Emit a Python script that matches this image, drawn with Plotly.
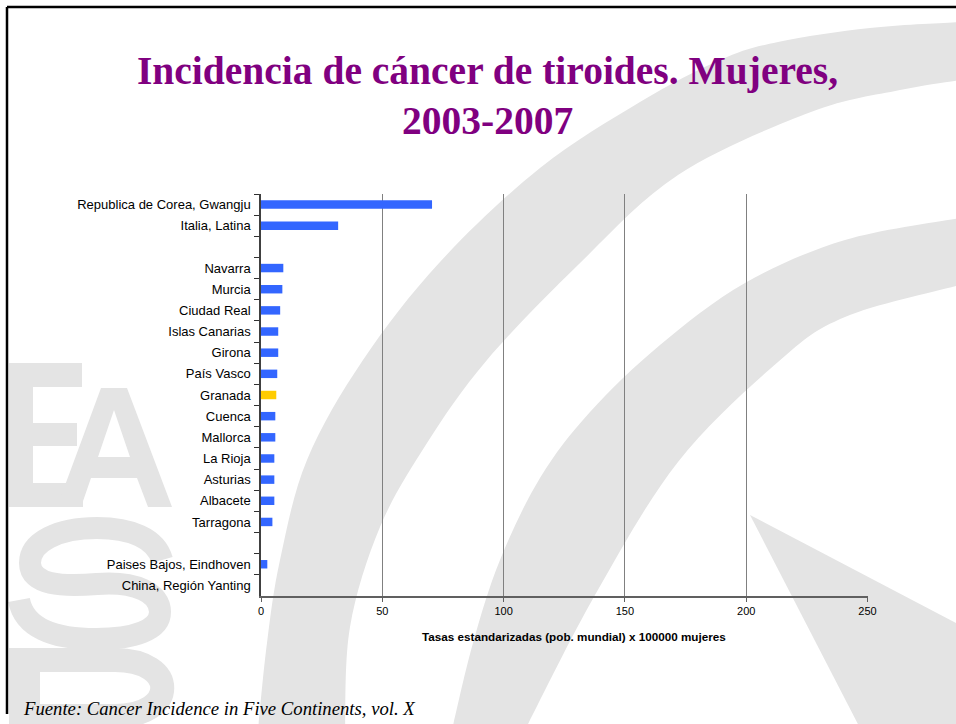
import plotly.graph_objects as go

# ---------------- data ----------------
categories = [
    "Republica de Corea, Gwangju", "Italia, Latina", " ",
    "Navarra", "Murcia", "Ciudad Real", "Islas Canarias", "Girona",
    "País Vasco", "Granada", "Cuenca", "Mallorca", "La Rioja",
    "Asturias", "Albacete", "Tarragona", "  ",
    "Paises Bajos, Eindhoven", "China, Región Yanting",
]
values = [70.5, 31.8, None, 9.2, 8.8, 7.9, 7.1, 7.1, 6.7, 6.3, 5.9, 5.9,
          5.5, 5.5, 5.5, 4.7, None, 2.6, 0.0]
highlight = "Granada"
x_ticks = [0, 50, 100, 150, 200, 250]
title_line1 = "Incidencia de cáncer de tiroides. Mujeres,"
title_line2 = "2003-2007"
x_title = "Tasas estandarizadas (pob. mundial) x 100000 mujeres"
source = "Fuente: Cancer Incidence in Five Continents, vol. X"

# ---------------- geometry helpers ----------------
W, H = 956, 724
ML, MR, MT, MB = 261, 88, 194, 128
PW, PH = W - ML - MR, H - MT - MB


def to_paper(x, y):
    return (x - ML) / PW, 1 - (y - MT) / PH


def path_from(cmds):
    s = []
    for c, pts in cmds:
        s.append(c)
        for (x, y) in pts:
            a, b = to_paper(x, y)
            s.append(f"{a:.5f},{b:.5f}")
    return " ".join(s)


def poly(pts):
    cmds = [("M", [pts[0]])] + [("L", [p]) for p in pts[1:]] + [("Z", [])]
    return path_from(cmds)


def smooth_cmds(pts, start="M"):
    """Catmull-Rom through pts -> cubic bezier commands."""
    cmds = [(start, [pts[0]])]
    n = len(pts)
    for i in range(n - 1):
        p0 = pts[i - 1] if i > 0 else pts[i]
        p1 = pts[i]
        p2 = pts[i + 1]
        p3 = pts[i + 2] if i + 2 < n else pts[i + 1]
        c1 = (p1[0] + (p2[0] - p0[0]) / 6, p1[1] + (p2[1] - p0[1]) / 6)
        c2 = (p2[0] - (p3[0] - p1[0]) / 6, p2[1] - (p3[1] - p1[1]) / 6)
        cmds.append(("C", [c1, c2, p2]))
    return cmds


def band(edge1, edge2):
    cmds = smooth_cmds(edge1, "M") + smooth_cmds(edge2, "L") + [("Z", [])]
    return path_from(cmds)


GREY = "#e4e4e4"
shapes = []

# big arc bands (watermark)
bandA_out = [(960, 22), (870, 28), (778, 42), (720, 60), (640, 102), (540, 168),
             (440, 262), (363, 360), (307, 460), (280, 560), (267, 643), (258, 730)]
bandA_in = [(345, 730), (350, 627), (380, 527), (427, 443), (487, 360),
            (578, 265), (678, 175), (811, 112), (900, 90), (960, 80)]
bandB_out = [(960, 218), (845, 240), (745, 283), (660, 345), (590, 412),
             (540, 478), (500, 560), (473, 643), (452, 730)]
bandB_in = [(525, 730), (595, 595), (678, 462), (778, 362), (845, 317), (960, 285)]
shapes.append(dict(type="path", xref="paper", yref="paper",
                   path=band(bandA_out, bandA_in),
                   fillcolor=GREY, line=dict(width=0), layer="below"))
shapes.append(dict(type="path", xref="paper", yref="paper",
                   path=band(bandB_out, bandB_in),
                   fillcolor=GREY, line=dict(width=0), layer="below"))
wedge = [(750, 515), (960, 625), (960, 730), (861, 730)]
shapes.append(dict(type="path", xref="paper", yref="paper", path=poly(wedge),
                   fillcolor=GREY, line=dict(width=0), layer="below"))

# letters E A S P
E = [(9, 363), (82, 363), (82, 387), (33, 387), (33, 423), (77, 423), (77, 446),
     (33, 446), (33, 483), (83, 483), (83, 507), (9, 507)]
shapes.append(dict(type="path", xref="paper", yref="paper", path=poly(E),
                   fillcolor=GREY, line=dict(width=0), layer="below"))
A_outer = [(57, 507), (101, 388), (127, 388), (172, 507), (148, 507), (137, 478),
           (91, 478), (81, 507)]
A_hole = [(98, 457), (114, 410), (130, 457)]
shapes.append(dict(type="path", xref="paper", yref="paper",
                   path=poly(A_outer) + " " + poly(A_hole), fillrule="evenodd",
                   fillcolor=GREY, line=dict(width=0), layer="below"))
S_path = path_from([
    ("M", [(162, 560)]),
    ("C", [(156, 538), (130, 528), (97, 528)]),
    ("C", [(58, 528), (30, 542), (30, 563)]),
    ("C", [(30, 585), (62, 587), (97, 584)]),
    ("C", [(136, 581), (160, 593), (160, 612)]),
    ("C", [(160, 630), (134, 639), (96, 639)]),
    ("C", [(52, 639), (24, 627), (19, 600)]),
])
shapes.append(dict(type="path", xref="paper", yref="paper", path=S_path,
                   line=dict(color=GREY, width=22), layer="below"))
P_stem = [(9, 648), (40, 648), (40, 730), (9, 730)]
shapes.append(dict(type="path", xref="paper", yref="paper", path=poly(P_stem),
                   fillcolor=GREY, line=dict(width=0), layer="below"))
P_bowl = path_from([
    ("M", [(27, 660)]),
    ("L", [(115, 660)]),
    ("C", [(178, 660), (178, 716), (115, 716)]),
    ("L", [(27, 716)]),
])
shapes.append(dict(type="path", xref="paper", yref="paper", path=P_bowl,
                   line=dict(color=GREY, width=24), layer="below"))

# slide frame
for (x0, y0, x1, y1) in [(7, 7, 960, 7), (7, 7, 7, 714)]:
    a0, b0 = to_paper(x0, y0)
    a1, b1 = to_paper(x1, y1)
    shapes.append(dict(type="line", xref="paper", yref="paper", x0=a0, y0=b0,
                       x1=a1, y1=b1, line=dict(color="black", width=2.5),
                       layer="above"))

# ---------------- figure ----------------
colors = ["#FFCC00" if c == highlight else "#3366FF" for c in categories]

fig = go.Figure(go.Bar(
    x=values, y=categories, orientation="h",
    marker=dict(color=colors, line=dict(width=0)),
    hoverinfo="x+y",
))

SERIF = "Liberation Serif, Times New Roman, serif"
SANS = "Liberation Sans, Arial, sans-serif"
annotations = []
for text, (px, py) in [("<b>" + title_line1 + "</b>", (487, 71)),
                       ("<b>" + title_line2 + "</b>", (487, 121))]:
    ax, ay = to_paper(px, py)
    annotations.append(dict(text=text, x=ax, y=ay, xref="paper", yref="paper",
                            xanchor="center", yanchor="middle", showarrow=False,
                            font=dict(family=SERIF, size=39.5, color="#800080")))
ax, ay = to_paper(574, 636)
annotations.append(dict(text="<b>" + x_title + "</b>", x=ax, y=ay, xref="paper",
                        yref="paper", xanchor="center", yanchor="middle",
                        showarrow=False,
                        font=dict(family=SANS, size=11.7, color="black")))
ax, ay = to_paper(21, 708)
annotations.append(dict(text="<i>" + source + "</i>", x=ax, y=ay, xref="paper",
                        yref="paper", xanchor="left", yanchor="middle",
                        showarrow=False,
                        font=dict(family=SERIF, size=18.7, color="black")))

fig.update_layout(
    width=W, height=H,
    margin=dict(l=ML, r=MR, t=MT, b=MB, pad=0),
    paper_bgcolor="white",
    plot_bgcolor="rgba(0,0,0,0)",
    showlegend=False,
    bargap=0.6,
    shapes=shapes,
    annotations=annotations,
    font=dict(family=SANS, color="black"),
    xaxis=dict(
        range=[0, 250.2], tickvals=x_ticks, ticktext=[str(v) for v in x_ticks],
        showgrid=True, gridcolor="#808080", gridwidth=1,
        showline=True, linecolor="#606060", linewidth=1.5,
        ticks="outside", ticklen=4, tickcolor="#606060", tickwidth=1,
        tickfont=dict(size=11, color="black"),
        zeroline=False, fixedrange=True,
    ),
    yaxis=dict(
        type="category", categoryorder="array", categoryarray=categories,
        autorange="reversed",
        showline=True, linecolor="#404040", linewidth=1.5,
        ticks="outside", ticklen=5, tickcolor="#303030", tickwidth=1,
        tickson="boundaries", ticklabelstandoff=6,
        tickfont=dict(size=13, color="black"),
        showgrid=False, zeroline=False, fixedrange=True,
    ),
)

fig.write_html("out.html", config={"displayModeBar": False},
               post_script="document.body.style.margin='0';")
